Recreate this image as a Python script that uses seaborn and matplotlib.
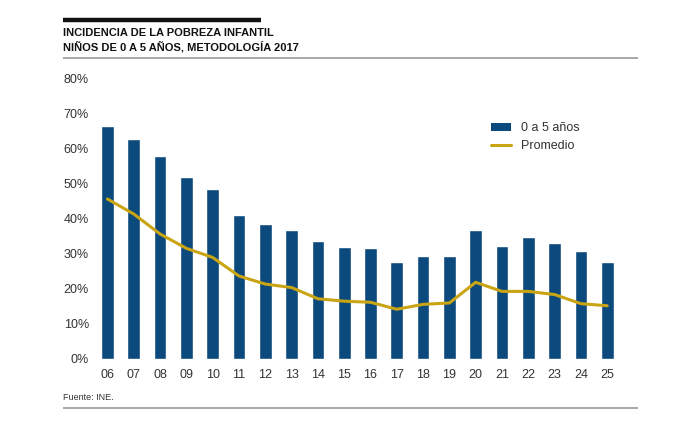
import matplotlib
matplotlib.use("Agg")
import matplotlib.pyplot as plt
from matplotlib.lines import Line2D
from matplotlib.patches import Patch
import seaborn as sns
import pandas as pd

years = ["06", "07", "08", "09", "10", "11", "12", "13", "14", "15",
         "16", "17", "18", "19", "20", "21", "22", "23", "24", "25"]
ninos_0_5 = [66.5, 62.7, 57.9, 52.1, 48.5, 41.2, 38.6, 36.7, 33.6, 32.1,
             31.8, 27.6, 29.4, 29.4, 36.7, 32.4, 34.8, 33.1, 30.9, 27.6]
promedio = [45.7, 41.4, 35.7, 31.6, 29.0, 23.7, 21.4, 20.4, 17.2, 16.5,
            16.2, 14.2, 15.6, 16.0, 21.9, 19.3, 19.3, 18.4, 15.8, 15.2]
yticks = [0, 10, 20, 30, 40, 50, 60, 70, 80]
ytick_labels = [f"{v}%" for v in yticks]

title_lines = ["INCIDENCIA DE LA POBREZA INFANTIL",
               "NIÑOS DE 0 A 5 AÑOS, METODOLOGÍA 2017"]
source = "Fuente: INE."

BLUE = "#0c4a7d"
GOLD = "#c9a514"
TXT = "#333333"

sns.set_theme(style="white")
plt.rcParams["font.family"] = ["Liberation Sans", "DejaVu Sans"]

df = pd.DataFrame({"year": years, "val": ninos_0_5, "prom": promedio})

fig = plt.figure(figsize=(7, 4.33), dpi=100)
ax = fig.add_axes([0.131, 0.171, 0.759, 0.6467])

sns.barplot(data=df, x="year", y="val", color=BLUE, width=0.48,
            saturation=1, ax=ax, zorder=2)
sns.lineplot(x=list(range(len(years))), y=promedio, color=GOLD,
             linewidth=2.2, ax=ax, zorder=3)

ax.set_ylim(0, 80)
ax.set_xlim(-0.6, len(years) - 0.4)
ax.set_yticks(yticks)
ax.set_yticklabels(ytick_labels)
ax.set_xlabel("")
ax.set_ylabel("")
for s in ax.spines.values():
    s.set_visible(False)
ax.tick_params(axis="both", length=0, labelsize=9, colors=TXT)
ax.tick_params(axis="y", pad=2)
ax.tick_params(axis="x", pad=7)

handles = [Patch(facecolor=BLUE, edgecolor="none"),
           Line2D([0], [0], color=GOLD, lw=2.2)]
ax.legend(handles, ["0 a 5 años", "Promedio"], loc="upper left",
          bbox_to_anchor=(0.73, 0.885), frameon=False, fontsize=9,
          handlelength=1.6, handletextpad=0.8, labelspacing=0.45,
          labelcolor=TXT)

# Decorations
fig.add_artist(Line2D([63/700, 261/700], [1-20/433]*2, color="#111111",
                      lw=3.2, solid_capstyle="butt"))
fig.text(63/700, 1-33/433, title_lines[0], fontsize=8, fontweight="bold",
         color="#111111", va="center", ha="left")
fig.text(63/700, 1-47/433, title_lines[1], fontsize=8, fontweight="bold",
         color="#111111", va="center", ha="left")
fig.add_artist(Line2D([63/700, 638/700], [1-58/433]*2, color="#999999",
                      lw=1.2, solid_capstyle="butt"))
fig.text(63/700, 1-397/433, source, fontsize=6.5, color=TXT, va="center", ha="left")
fig.add_artist(Line2D([63/700, 638/700], [1-408/433]*2, color="#999999",
                      lw=1.2, solid_capstyle="butt"))

fig.savefig("out.png", dpi=100, facecolor="white")
